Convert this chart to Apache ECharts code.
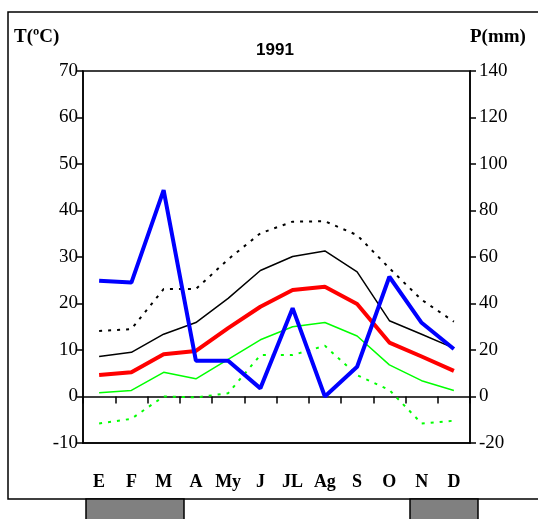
<!DOCTYPE html>
<html>
<head>
<meta charset="utf-8">
<script src="https://cdn.jsdelivr.net/npm/echarts@6/dist/echarts.min.js"></script>
<style>html,body{margin:0;padding:0;background:#fff}#c{width:538px;height:519px}</style>
</head>
<body>
<div id="c"></div>
<script>
var months = ['E','F','M','A','My','J','JL','Ag','S','O','N','D'];
var tAbsMax = [14.1, 14.5, 23.1, 23.1, 29.5, 35.1, 37.6, 37.7, 34.7, 27.6, 20.8, 16.1];
var tMaxMean = [8.6, 9.5, 13.4, 15.9, 21.1, 27.1, 30.1, 31.3, 26.8, 16.3, 13.4, 10.4];
var tMean = [4.6, 5.2, 9.1, 9.8, 14.7, 19.3, 22.9, 23.6, 19.9, 11.6, 8.6, 5.5];
var tMinMean = [0.8, 1.3, 5.2, 3.8, 8.0, 12.2, 15.0, 15.9, 13.0, 6.8, 3.4, 1.3];
var tAbsMin = [-5.8, -4.8, 0.0, -0.2, 0.7, 8.9, 8.9, 10.9, 4.6, 1.4, -5.8, -5.2];
var precip = [49.8, 49.0, 88.8, 15.4, 15.4, 3.5, 38.0, 0.0, 12.8, 51.5, 31.7, 20.4];
var tTicks = {min: -10, max: 70, interval: 10};
var pTicks = {min: -20, max: 140, interval: 20};

var chart = echarts.init(document.getElementById('c'), null, {renderer: 'canvas'});
var serif = 'Liberation Serif, Times New Roman, serif';
var axLine = {show: true, lineStyle: {color: '#000', width: 1.5}};
chart.setOption({
  animation: false,
  backgroundColor: '#fff',
  title: {
    text: '1991', left: 270, top: 37, textAlign: 'center',
    textStyle: {fontFamily: 'Liberation Sans, Arial, sans-serif', fontWeight: 'bold', fontSize: 17, color: '#000'}
  },
  grid: {left: 83, right: 68, top: 71, bottom: 76, show: true, borderColor: '#000', borderWidth: 1.5, containLabel: false, outerBoundsMode: 'none'},
  xAxis: [
    {type: 'category', data: months, boundaryGap: true, position: 'bottom',
     axisLine: {show: true, onZero: true, lineStyle: {color: '#000', width: 1.5}},
     axisTick: {show: true, inside: false, length: 7, interval: 0, lineStyle: {color: '#000', width: 1.5}},
     axisLabel: {show: false}, splitLine: {show: false}},
    {type: 'category', data: months, boundaryGap: true, position: 'bottom', offset: 0,
     axisLine: {show: true, onZero: false, lineStyle: {color: '#000', width: 1.5}},
     axisTick: {show: false},
     axisLabel: {show: true, interval: 0, margin: 30, fontFamily: serif, fontWeight: 'bold', fontSize: 18, color: '#000'},
     splitLine: {show: false}}
  ],
  yAxis: [
    {type: 'value', min: tTicks.min, max: tTicks.max, interval: tTicks.interval, position: 'left',
     axisLine: axLine, axisTick: {show: true, length: 6, lineStyle: {color: '#000', width: 1.5}},
     axisLabel: {fontFamily: serif, fontSize: 19, color: '#000', margin: 5}, splitLine: {show: false}},
    {type: 'value', min: pTicks.min, max: pTicks.max, interval: pTicks.interval, position: 'right', alignTicks: false,
     axisLine: axLine, axisTick: {show: true, length: 6, lineStyle: {color: '#000', width: 1.5}},
     axisLabel: {fontFamily: serif, fontSize: 19, color: '#000', margin: 9}, splitLine: {show: false}}
  ],
  series: [
    {name: 'Tmax abs', type: 'line', data: tAbsMax, xAxisIndex: 0, yAxisIndex: 0, symbol: 'none',
     lineStyle: {color: '#000', width: 2, type: [3, 6]}},
    {name: 'Tmax', type: 'line', data: tMaxMean, xAxisIndex: 0, yAxisIndex: 0, symbol: 'none',
     lineStyle: {color: '#000', width: 1.5}},
    {name: 'Tmed', type: 'line', data: tMean, xAxisIndex: 0, yAxisIndex: 0, symbol: 'none',
     lineStyle: {color: '#ff0000', width: 4}},
    {name: 'Tmin', type: 'line', data: tMinMean, xAxisIndex: 0, yAxisIndex: 0, symbol: 'none',
     lineStyle: {color: '#00ff00', width: 1.5}},
    {name: 'Tmin abs', type: 'line', data: tAbsMin, xAxisIndex: 0, yAxisIndex: 0, symbol: 'none',
     lineStyle: {color: '#00ff00', width: 2, type: [3, 6]}},
    {name: 'P', type: 'line', data: precip, xAxisIndex: 0, yAxisIndex: 1, symbol: 'none',
     lineStyle: {color: '#0000ff', width: 4}}
  ],
  graphic: [
    {type: 'rect', shape: {x: 8, y: 12, width: 540, height: 487}, style: {fill: 'none', stroke: '#000', lineWidth: 1.5}, z: 0},
    {type: 'rect', shape: {x: 86, y: 499, width: 98, height: 30}, style: {fill: '#808080', stroke: '#000', lineWidth: 1.5}, z: 10},
    {type: 'rect', shape: {x: 410, y: 499, width: 68, height: 30}, style: {fill: '#808080', stroke: '#000', lineWidth: 1.5}, z: 10},
    {type: 'text', left: 14, top: 28, style: {text: 'T(ºC)', fontFamily: serif, fontWeight: 'bold', fontSize: 19, fill: '#000'}},
    {type: 'text', left: 470, top: 28, style: {text: 'P(mm)', fontFamily: serif, fontWeight: 'bold', fontSize: 19, fill: '#000'}}
  ]
});
</script>
</body>
</html>
